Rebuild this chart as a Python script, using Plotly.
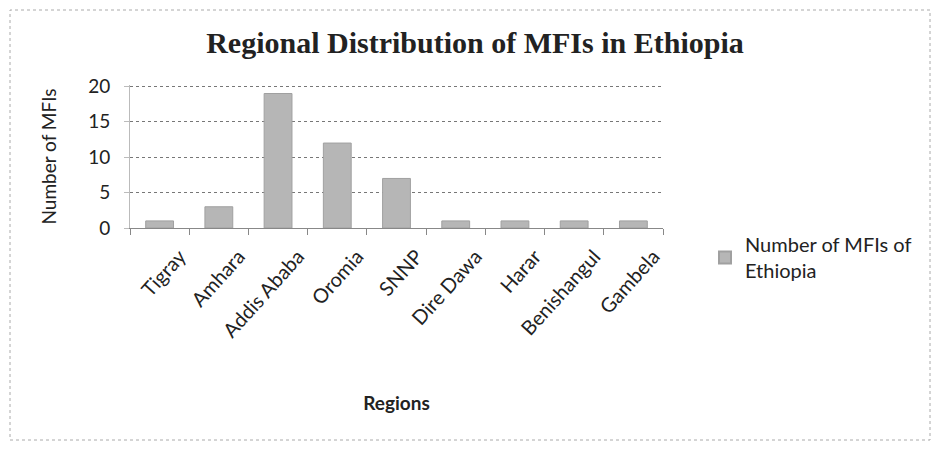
import plotly.graph_objects as go

regions = ["Tigray", "Amhara", "Addis Ababa", "Oromia", "SNNP",
           "Dire Dawa", "Harar", "Benishangul", "Gambela"]
num_mfis = [1, 3, 19, 12, 7, 1, 1, 1, 1]
series_name = "Number of MFIs of<br>Ethiopia"
y_ticks = [0, 5, 10, 15, 20]

OFF = 8  # page body margin
W, H = 940 - 2 * OFF, 450 - 2 * OFF
# target plot area in window pixels: x 130..663, y 85..228
PX0, PX1, PY0, PY1 = 130, 663, 85, 228
L, T = PX0 - OFF, PY0 - OFF
R, B = W - (PX1 - OFF), H - (PY1 - OFF)
pw, ph = PX1 - PX0, PY1 - PY0

def px_x(x):
    return (x - PX0) / pw

def px_y(y):
    return (PY1 - y) / ph

fig = go.Figure()
fig.add_trace(go.Bar(
    x=regions, y=num_mfis, name=series_name,
    marker=dict(color="#b6b6b6", line=dict(color="#a0a0a0", width=1)),
    width=0.47, showlegend=True,
))

fig.update_layout(
    width=W, height=H,
    margin=dict(l=L, r=R, t=T, b=B, autoexpand=False),
    paper_bgcolor="white", plot_bgcolor="white",
    font=dict(family="Lato, Open Sans, sans-serif", color="#222"),
    title=dict(text="<b>Regional Distribution of MFIs in Ethiopia</b>",
               font=dict(family="Liberation Serif, serif", size=30, color="#222"),
               x=px_x(475), xref="paper", xanchor="center",
               y=1 - (42 - OFF) / H, yanchor="middle"),
    showlegend=True,
    legend=dict(x=px_x(705), y=px_y(225), xanchor="left", yanchor="top",
                font=dict(size=20, color="#222"), itemsizing="constant",
                bgcolor="rgba(0,0,0,0)"),
    bargap=0.53,
)

fig.update_xaxes(
    automargin=False,
    showline=True, linecolor="#888", linewidth=1,
    ticks="outside", tickson="boundaries", ticklen=6, tickcolor="#888",
    tickangle=-48, tickfont=dict(size=20, color="#222"),
    ticklabelshift=20, ticklabelstandoff=8,
    title=dict(text="<b>Regions</b>", font=dict(size=19, color="#222"), standoff=56),
    showgrid=False,
)
fig.update_yaxes(
    automargin=False,
    range=[0, 20.2], tickvals=y_ticks,
    showline=True, linecolor="#bbb", linewidth=1,
    ticks="outside", ticklen=5, tickcolor="#bbb",
    ticklabelstandoff=10,
    tickfont=dict(size=19, color="#222"),
    showgrid=True, gridcolor="#777", griddash="dot", gridwidth=1,
    zeroline=False,
    title=dict(text="Number of MFIs", font=dict(size=19, color="#222"), standoff=26),
)

fig.add_shape(type="rect", xref="paper", yref="paper",
              x0=px_x(OFF + 2), x1=px_x(940 - OFF - 2),
              y0=px_y(450 - OFF - 2), y1=px_y(OFF + 2),
              line=dict(color="#aaa", width=1, dash="dot"), layer="below")

fig.write_html("out.html")
